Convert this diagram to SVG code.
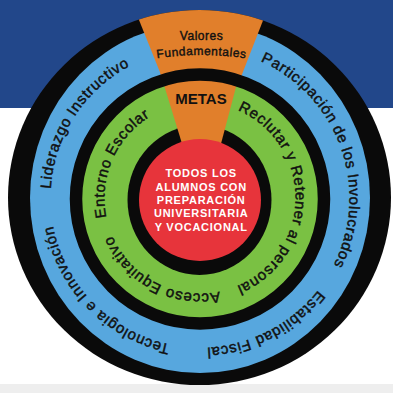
<svg xmlns="http://www.w3.org/2000/svg" width="393" height="393" viewBox="0 0 393 393">
<style>
.ring{font-family:"Liberation Sans",Arial,sans-serif;font-size:15px;letter-spacing:0.7px;fill:#111;stroke:#111;stroke-width:0.45px}
.val{font-family:"Liberation Sans",Arial,sans-serif;font-size:12px;letter-spacing:0.5px;fill:#111;stroke:#111;stroke-width:0.4px;text-anchor:middle}
.metas{font-family:"Liberation Sans",Arial,sans-serif;font-size:15px;font-weight:bold;fill:#111;text-anchor:middle}
.core{font-family:"Liberation Sans",Arial,sans-serif;font-size:11px;font-weight:bold;letter-spacing:0.75px;fill:#fff;text-anchor:middle}
</style>
<defs>
<clipPath id="outerClip"><ellipse cx="199.5" cy="197.5" rx="191.5" ry="187.5"/></clipPath>
<path id="pLid" d="M325.67,278.98 A149.5,149.5 0 1 1 74.33,117.02 A149.5,149.5 0 1 1 325.67,278.98"/>
<path id="pPar" d="M59.2,248.28 A149.5,149.5 0 1 1 340.8,147.72 A149.5,149.5 0 1 1 59.2,248.28"/>
<path id="pEst" d="M131.44,65.15 A149.5,149.5 0 1 1 268.56,330.85 A149.5,149.5 0 1 1 131.44,65.15"/>
<path id="pTec" d="M306.64,93.22 A149.5,149.5 0 1 1 93.36,302.78 A149.5,149.5 0 1 1 306.64,93.22"/>
<path id="pEnt" d="M287.58,236.08 A95.5,95.5 0 1 1 112.42,159.92 A95.5,95.5 0 1 1 287.58,236.08"/>
<path id="pRec" d="M104.5,197.17 A95.5,95.5 0 1 1 295.5,198.83 A95.5,95.5 0 1 1 104.5,197.17"/>
<path id="pAcc" d="M244.39,113.44 A95.5,95.5 0 1 1 155.61,282.56 A95.5,95.5 0 1 1 244.39,113.44"/>
<path id="pFun" d="M98.9,73.1 A300,300 0 0 1 304.1,73.1"/>
</defs>
<g id="background">
<rect x="0" y="0" width="393" height="393" fill="#ffffff"/>
<rect x="0" y="0" width="393" height="108" fill="#22478a"/>
<rect x="0" y="384" width="393" height="9" fill="#eeeeee"/>
</g>
<g id="outer-ring">
<ellipse cx="199.5" cy="197.5" rx="191.5" ry="187.5" fill="#0a0a0a"/>
<ellipse cx="200" cy="198" rx="170" ry="175" fill="#57a7de"/>
</g>
<g id="valores-fundamentales">
<polygon points="202,177 131,0 271,0" fill="#e17f2b" clip-path="url(#outerClip)"/>
<text class="val" x="201.5" y="39.5">Valores</text>
<text class="val"><textPath href="#pFun" startOffset="50%">Fundamentales</textPath></text>
</g>
<g id="green-ring">
<circle cx="200" cy="199" r="120" fill="#7ac143"/>
<ellipse cx="199.5" cy="200" rx="72" ry="75" fill="#0a0a0a"/>
</g>
<g id="metas">
<polygon points="160,72 240,72 218,155 185.5,155" fill="#e17f2b"/>
<text class="metas" x="201" y="104">METAS</text>
</g>
<g id="inner-divider">
<ellipse cx="200" cy="199" rx="124" ry="124.5" fill="none" stroke="#0a0a0a" stroke-width="12.5"/>
</g>
<g id="blue-labels">
<text class="ring" text-anchor="middle"><textPath href="#pLid" startOffset="50%">Liderazgo Instructivo</textPath></text>
<text class="ring" text-anchor="middle"><textPath href="#pPar" startOffset="50%">Participación de los Involucrados</textPath></text>
<text class="ring" text-anchor="middle"><textPath href="#pEst" startOffset="50%">Estabilidad Fiscal</textPath></text>
<text class="ring" text-anchor="middle"><textPath href="#pTec" startOffset="50%">Tecnologia e Innovación</textPath></text>
</g>
<g id="green-labels">
<text class="ring" text-anchor="middle"><textPath href="#pEnt" startOffset="50%">Entorno Escolar</textPath></text>
<text class="ring" text-anchor="middle"><textPath href="#pRec" startOffset="50%">Reclutar y Retener al personal</textPath></text>
<text class="ring" text-anchor="middle"><textPath href="#pAcc" startOffset="50%">Acceso Equitativo</textPath></text>
</g>
<g id="center">
<circle cx="200" cy="200" r="61" fill="#e7343b"/>
<text class="core" x="201.2" y="176.7">TODOS LOS</text>
<text class="core" x="201.2" y="190.5">ALUMNOS CON</text>
<text class="core" x="201.2" y="204">PREPARACIÓN</text>
<text class="core" x="201.2" y="217.4">UNIVERSITARIA</text>
<text class="core" x="201.2" y="231">Y VOCACIONAL</text>
</g>
<g id="connectors"/>
</svg>
